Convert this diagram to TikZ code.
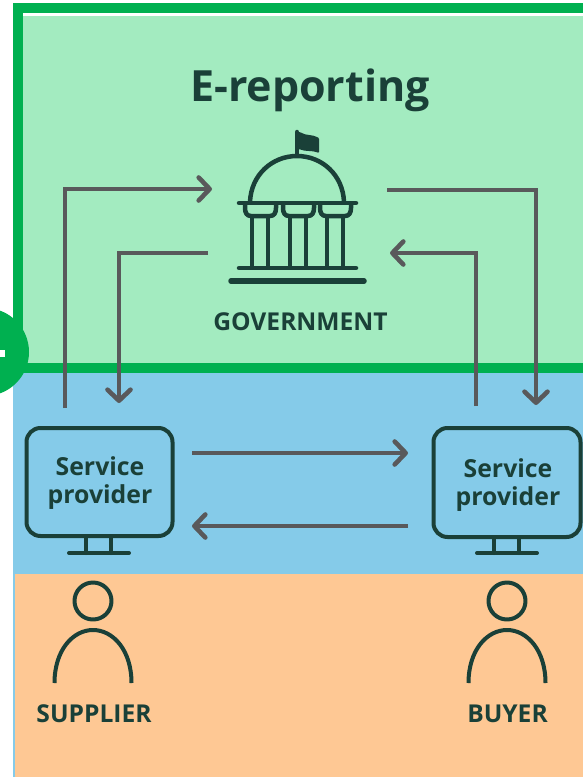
\documentclass[tikz,border=0pt]{standalone}
\usepackage{fontspec}
\setmainfont{Open Sans}
\usetikzlibrary{arrows.meta}
\definecolor{bandgreen}{HTML}{00B050}
\definecolor{lightgreen}{HTML}{A3EBC0}
\definecolor{skyb}{HTML}{85CBE9}
\definecolor{peach}{HTML}{FEC894}
\definecolor{ink}{HTML}{1A4038}
\definecolor{arrowgrey}{HTML}{59595B}
\tikzset{
  x=1pt,y=-1pt,
  flow/.style={draw=arrowgrey,line width=4.6pt,line join=miter,
    -{Straight Barb[length=11pt,width=23pt,line width=4.6pt,round]}},
  icon/.style={draw=ink,line width=4.5pt,line cap=round,line join=round},
  lab/.style={text=ink,font=\bfseries\fontsize{24.8}{29}\selectfont,inner sep=0pt,align=center},
  small/.style={text=ink,font=\bfseries\fontsize{24.6}{29}\selectfont,inner sep=0pt},
  monitor/.style={draw=ink,line width=4pt,rounded corners=14pt,inner sep=0pt,outer sep=0pt}
}
\newcommand{\pcicon}[1]{% stand of a monitor, x of left leg
  \draw[icon,line width=4pt] (#1,537) -- (#1,553) (#1+25,537) -- (#1+25,553) (#1-17,553) -- (#1+43,553);}
\newcommand{\personicon}[2]{% centre x, body half width
  \draw[icon,line width=4pt,line cap=butt] (#1,601) circle[radius=18.5];
  \draw[icon,line width=4pt,line cap=butt] (#1-#2,683) .. controls (#1-#2,650) and (#1-20,630) .. (#1,630)
     .. controls (#1+20,630) and (#1+#2,650) .. (#1+#2,683);}
\begin{document}
\begin{tikzpicture}
\useasboundingbox (0,0) rectangle (583,777);
\clip (0,0) rectangle (583,777);
\fill[white] (0,0) rectangle (583,777);
% bands
\fill[skyb] (13,368) rectangle (583,777);
\fill[peach] (15,574) rectangle (583,777);
\fill[lightgreen] (23,16) rectangle (583,363);
\fill[bandgreen] (13,3) rectangle (583,13);
\fill[bandgreen] (13,3) rectangle (23,368);
\fill[bandgreen] (13,363) rectangle (583,373);
\fill[bandgreen] (-15,352) circle[radius=44];
\fill[white] (0,350) rectangle (5,357);
% title
\node[text=ink,inner sep=0pt,font=\bfseries\fontsize{43}{50}\selectfont] (title) at (310,90) {E-reporting};
% government icon
\fill[ink,rounded corners=1pt] (295,132) -- (300,132) .. controls (306,136) and (312,134) .. (319,138)
  -- (319,153) .. controls (312,150) and (306,152) .. (299,149) -- (295,149) -- cycle;
\draw[icon] (297,132) -- (297,155);
\draw[icon] (250,202) .. controls (251,175) and (272,156) .. (297,156) .. controls (322,156) and (343,175) .. (344,202);
\draw[icon] (239,203) -- (356,203);
\foreach \a in {245,283,320}{
  \draw[icon] (\a,204) -- (\a,208) .. controls (\a,213) and (\a+2,216) .. (\a+6,216) -- (\a+25,216)
     .. controls (\a+29,216) and (\a+31,213) .. (\a+31,208) -- (\a+31,204);
  \draw[icon,line cap=butt] (\a+7,216) -- (\a+7,267) (\a+23,216) -- (\a+23,267);
}
\draw[icon] (239,268) -- (356,268);
\draw[icon,line width=5.5pt] (231,281) -- (364,281);
\node[small] (gov) at (300.5,322) {GOVERNMENT};
% monitors
\node[monitor,minimum width=146pt,minimum height=108pt] (pcl) at (99.5,482) {};
\node[monitor,minimum width=147pt,minimum height=109pt] (pcr) at (507,482.5) {};
\pcicon{86}
\pcicon{494}
\node[lab] (spl) at (100,483) {Service\\[-0.6pt]provider};
\node[lab] (spr) at (508,485) {Service\\[-0.6pt]provider};
% persons
\personicon{93}{38.5}
\personicon{507}{38.5}
\node[small] (sup) at (94,714) {SUPPLIER};
\node[small] (buy) at (507.5,714) {BUYER};
% connector ends
\coordinate (a1s) at (65,408); \coordinate (a1e) at (212,189);
\coordinate (a2s) at (208,253); \coordinate (a2e) at (119,403);
\coordinate (a3s) at (387,190); \coordinate (a3e) at (536,405);
\coordinate (a4s) at (476,406); \coordinate (a4e) at (390,253);
\coordinate (a5s) at (192,453); \coordinate (a5e) at (408,453);
\coordinate (a6s) at (408,526); \coordinate (a6e) at (192,526);
\draw[flow] (a1s) |- (a1e);
\draw[flow] (a2s) -| (a2e);
\draw[flow] (a3s) -| (a3e);
\draw[flow] (a4s) |- (a4e);
\draw[flow] (a5s) -- (a5e);
\draw[flow] (a6s) -- (a6e);
\end{tikzpicture}
\end{document}
